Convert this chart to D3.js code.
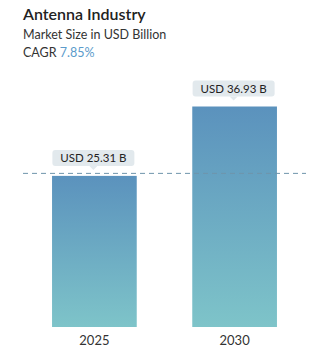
<!DOCTYPE html>
<html>
<head>
<meta charset="utf-8">
<script src="https://cdn.jsdelivr.net/npm/d3@7"></script>
<style>
  html, body { margin: 0; padding: 0; background: #fff; }
  svg { display: block; font-family: Lato, "Open Sans", sans-serif; }
</style>
</head>
<body>
<svg id="chart" width="329" height="361"></svg>
<script>
// Market size by year (USD billion)
const years = ["2025", "2030"];
const values = [25.31, 36.93];
const valueLabels = ["USD 25.31 B", "USD 36.93 B"];
const title = "Antenna Industry";
const subtitle = "Market Size in USD Billion";
const cagrLabel = "CAGR";
const cagrValue = "7.85%";

const W = 329, H = 361;
const svg = d3.select("#chart");

const baseY = 327, topY = 106.5;
const x = d3.scaleBand().domain(years).range([24, 305]).paddingInner(0.396).paddingOuter(0.2);
const y = d3.scaleLinear().domain([0, values[1]]).range([baseY, topY]);

// vertical gradient for the bars
const defs = svg.append("defs");
const grad = defs.append("linearGradient").attr("id", "barGrad")
  .attr("x1", 0).attr("y1", 0).attr("x2", 0).attr("y2", 1);
grad.append("stop").attr("offset", "0%").attr("stop-color", "#5b92bd");
grad.append("stop").attr("offset", "100%").attr("stop-color", "#7ec4c9");

// header
svg.append("text").attr("x", 23).attr("y", 20)
  .attr("font-size", 16).attr("font-weight", 600).attr("fill", "#222").text(title);
svg.append("text").attr("x", 23).attr("y", 39)
  .attr("font-size", 12.5).attr("fill", "#333").text(subtitle);
const cagr = svg.append("text").attr("x", 23).attr("y", 57).attr("font-size", 12.5);
cagr.append("tspan").attr("fill", "#333").text(cagrLabel + " ");
cagr.append("tspan").attr("fill", "#5b9bcb").text(cagrValue);

// bars
svg.selectAll("rect.bar").data(values).join("rect")
  .attr("class", "bar")
  .attr("x", (d, i) => x(years[i]))
  .attr("width", x.bandwidth())
  .attr("y", d => y(d))
  .attr("height", d => baseY - y(d))
  .attr("fill", "url(#barGrad)");

// reference line at the first year's value
svg.append("line")
  .attr("x1", 23).attr("x2", 306)
  .attr("y1", y(values[0]) - 2.5).attr("y2", y(values[0]) - 2.5)
  .attr("stroke", "#6f95ab").attr("stroke-width", 1)
  .attr("stroke-dasharray", "5,4");

// value callouts
const boxW = 82, boxH = 16;
values.forEach((v, i) => {
  const cx = x(years[i]) + x.bandwidth() / 2 - 1;
  const by = y(v) - 26;
  const g = svg.append("g");
  g.append("rect").attr("x", cx - boxW / 2).attr("y", by)
    .attr("width", boxW).attr("height", boxH).attr("rx", 3)
    .attr("fill", "#e2e9ed");
  g.append("path")
    .attr("d", `M${cx - 4},${by + boxH} L${cx},${by + boxH + 4} L${cx + 4},${by + boxH} Z`)
    .attr("fill", "#e2e9ed");
  g.append("text").attr("x", cx).attr("y", by + 12)
    .attr("text-anchor", "middle").attr("font-size", 11.5).attr("fill", "#222")
    .text(valueLabels[i]);
});

// year axis labels
svg.selectAll("text.year").data(years).join("text")
  .attr("class", "year")
  .attr("x", d => x(d) + x.bandwidth() / 2)
  .attr("y", 345)
  .attr("text-anchor", "middle").attr("font-size", 13).attr("fill", "#333")
  .text(d => d);
</script>
</body>
</html>
